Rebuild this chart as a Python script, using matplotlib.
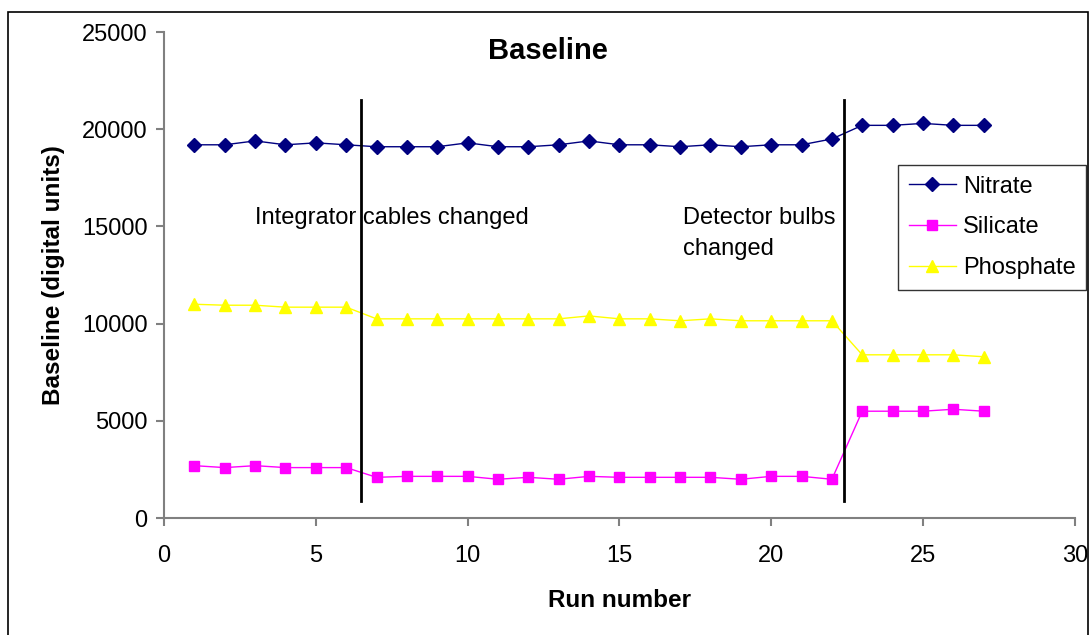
import numpy as np
import matplotlib.pyplot as plt
from matplotlib.patches import Rectangle

plt.rcParams['font.family'] = ['Liberation Sans', 'DejaVu Sans']

runs = list(range(1, 28))
nitrate = [19200, 19200, 19400, 19200, 19300, 19200, 19100, 19100, 19100, 19300,
           19100, 19100, 19200, 19400, 19200, 19200, 19100, 19200, 19100, 19200,
           19200, 19500, 20200, 20200, 20300, 20200, 20200]
silicate = [2700, 2600, 2700, 2600, 2600, 2600, 2100, 2150, 2150, 2150,
            2000, 2100, 2000, 2150, 2100, 2100, 2100, 2100, 2000, 2150,
            2150, 2000, 5500, 5500, 5500, 5600, 5500]
phosphate = [11000, 10950, 10950, 10850, 10850, 10850, 10250, 10250, 10250, 10250,
             10250, 10250, 10250, 10400, 10250, 10250, 10150, 10250, 10150, 10150,
             10150, 10150, 8400, 8400, 8400, 8400, 8300]

# instrument changes: x position of the marker line, and the notes beside them
events_x = [6.5, 22.4]
notes = [("Integrator cables changed", 3.0, 16000),
         ("Detector bulbs\nchanged", 17.1, 16000)]

fig = plt.figure(figsize=(10.9, 6.35), dpi=100)
ax = fig.add_axes([0.1505, 0.184, 0.8355, 0.7656])

ax.plot(runs, nitrate, color='#000080', lw=1, marker='D', ms=7, label='Nitrate')
ax.plot(runs, silicate, color='#FF00FF', lw=1, marker='s', ms=7, label='Silicate')
ax.plot(runs, phosphate, color='#FFFF00', lw=1, marker='^', ms=9, label='Phosphate')

for ex in events_x:
    ax.plot([ex, ex], [900, 21500], color='black', lw=2)
for txt, tx, ty in notes:
    ax.text(tx, ty, txt, fontsize=17, va='top', ha='left', linespacing=1.5)

ax.set_xlim(0, 30)
ax.set_ylim(0, 25000)
ax.set_xticks([0, 5, 10, 15, 20, 25, 30])
ax.set_yticks([0, 5000, 10000, 15000, 20000, 25000])
ax.tick_params(labelsize=17, color='#808080', length=6, width=1.5)
ax.tick_params(axis='x', pad=13)
ax.tick_params(axis='y', pad=6)
for s in ['top', 'right']:
    ax.spines[s].set_visible(False)
for s in ['left', 'bottom']:
    ax.spines[s].set_color('#808080')
    ax.spines[s].set_linewidth(1.5)

ax.set_xlabel('Run number', fontsize=17.5, fontweight='bold', labelpad=16)
ax.set_ylabel('Baseline (digital units)', fontsize=17.5, fontweight='bold', labelpad=12)
ax.text(0.422, 0.96, 'Baseline', transform=ax.transAxes, fontsize=21,
        fontweight='bold', ha='center', va='center')

leg = ax.legend(loc='upper left', bbox_to_anchor=(0.8058, 0.7265), fontsize=17,
                frameon=True, fancybox=False, edgecolor='black', borderpad=0.45,
                handlelength=2.0, handletextpad=0.3, labelspacing=0.8,
                borderaxespad=0)
leg.get_frame().set_linewidth(1)

fig.patches.append(Rectangle((8 / 1090, -0.05), 1080 / 1090, 1 - 12 / 635 + 0.05,
                             transform=fig.transFigure, fill=False,
                             edgecolor='black', lw=1.2))

fig.savefig('out.png', dpi=100)
